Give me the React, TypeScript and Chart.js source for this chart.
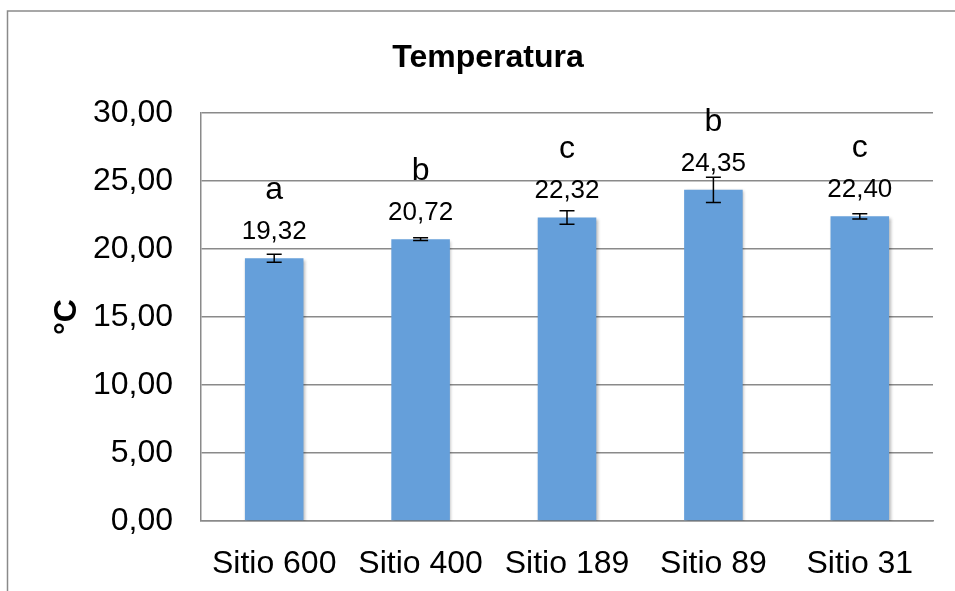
import React, { useEffect, useRef } from "react";
import { Chart, registerables } from "chart.js";

Chart.register(...registerables);

const categories = ["Sitio 600", "Sitio 400", "Sitio 189", "Sitio 89", "Sitio 31"];
const temperature = [19.32, 20.72, 22.32, 24.35, 22.4];
const errors = [0.3, 0.1, 0.5, 0.93, 0.2];
const letters = ["a", "b", "c", "b", "c"];
const yTicks = [0, 5, 10, 15, 20, 25, 30];
const chartTitle = "Temperatura";
const yTitle = "°C";

const FONT = "'Liberation Sans', Arial, sans-serif";
const GRID = "#8a8a8a";
const fmt = (v: number) => v.toFixed(2).replace(".", ",");

const decorPlugin = {
  id: "decor",
  beforeDraw(chart: any) {
    const ctx = chart.ctx;
    ctx.save();
    ctx.fillStyle = "#ffffff";
    ctx.fillRect(0, 0, chart.width, chart.height);
    ctx.strokeStyle = GRID;
    ctx.lineWidth = 1.5;
    ctx.beginPath();
    ctx.moveTo(7.5, chart.height);
    ctx.lineTo(7.5, 11);
    ctx.lineTo(chart.width, 11);
    ctx.stroke();
    ctx.restore();
  },
  beforeDatasetDraw(chart: any) {
    const ctx = chart.ctx;
    ctx.save();
    ctx.shadowColor = "rgba(0,0,0,0.28)";
    ctx.shadowBlur = 3;
    ctx.shadowOffsetX = 1.5;
    ctx.shadowOffsetY = 1.5;
  },
  afterDatasetDraw(chart: any) {
    chart.ctx.restore();
  },
  afterDatasetsDraw(chart: any) {
    const ctx = chart.ctx;
    const y = chart.scales.y;
    const meta = chart.getDatasetMeta(0);
    ctx.save();
    // error bars
    ctx.strokeStyle = "#000000";
    ctx.lineWidth = 1.5;
    meta.data.forEach((bar: any, i: number) => {
      const v = temperature[i];
      const e = errors[i];
      const yt = y.getPixelForValue(v + e);
      const yb = y.getPixelForValue(v - e);
      const x = bar.x;
      ctx.beginPath();
      ctx.moveTo(x, yt);
      ctx.lineTo(x, yb);
      ctx.moveTo(x - 7.5, yt);
      ctx.lineTo(x + 7.5, yt);
      ctx.moveTo(x - 7.5, yb);
      ctx.lineTo(x + 7.5, yb);
      ctx.stroke();
    });
    // labels
    ctx.fillStyle = "#000000";
    ctx.textAlign = "center";
    ctx.textBaseline = "alphabetic";
    meta.data.forEach((bar: any, i: number) => {
      const top = y.getPixelForValue(temperature[i]);
      ctx.font = `26px ${FONT}`;
      ctx.fillText(fmt(temperature[i]), bar.x, top - 19);
      ctx.font = `32px ${FONT}`;
      ctx.fillText(letters[i], bar.x, top - 59);
    });
    // title
    ctx.font = `bold 32px ${FONT}`;
    ctx.fillText(chartTitle, 488, 67);
    ctx.restore();
  },
};

export default function App() {
  const ref = useRef<HTMLCanvasElement | null>(null);
  useEffect(() => {
    document.body.style.margin = "0";
    const canvas = ref.current!;
    const chart = new Chart(canvas, {
      type: "bar",
      data: {
        labels: categories,
        datasets: [
          {
            data: temperature,
            backgroundColor: "#659fda",
            borderWidth: 0,
            barPercentage: 0.4,
            categoryPercentage: 1,
          },
        ],
      },
      options: {
        animation: false,
        responsive: false,
        devicePixelRatio: 1,
        layout: { padding: { top: 113, right: 22, bottom: 0, left: 0 } },
        plugins: {
          legend: { display: false },
          title: { display: false },
          tooltip: { enabled: false },
        },
        scales: {
          x: {
            grid: { display: false, drawTicks: false },
            border: { display: true, color: GRID, width: 1.5 },
            ticks: {
              color: "#000000",
              font: { family: FONT, size: 32 },
              padding: 24,
              maxRotation: 0,
            },
            afterFit(scale: any) {
              scale.height = 70;
            },
          },
          y: {
            min: 0,
            max: 30,
            afterBuildTicks(scale: any) {
              scale.ticks = yTicks.map((v) => ({ value: v }));
            },
            grid: { color: GRID, lineWidth: 1.5, drawTicks: false },
            border: { display: true, color: GRID, width: 1.5 },
            ticks: {
              color: "#000000",
              font: { family: FONT, size: 32 },
              padding: 28,
              callback: (v: any) => fmt(Number(v)),
            },
            title: {
              display: true,
              text: yTitle,
              color: "#000000",
              font: { family: FONT, size: 32, weight: "bold" },
              padding: { top: 48, bottom: 0 },
            },
            afterFit(scale: any) {
              scale.width = 201;
            },
          },
        },
      },
      plugins: [decorPlugin],
    });
    return () => chart.destroy();
  }, []);
  return <canvas ref={ref} width={955} height={591} style={{ display: "block" }} />;
}
